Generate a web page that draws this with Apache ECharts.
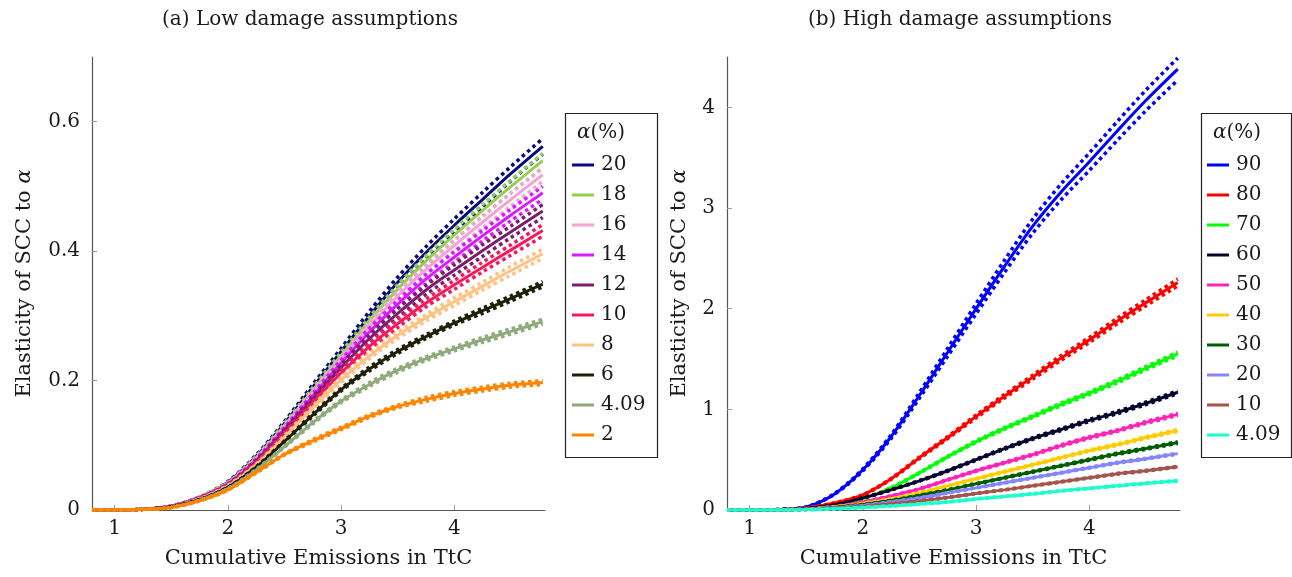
<!DOCTYPE html>
<html>
<head>
<meta charset="utf-8">
<script src="https://cdn.jsdelivr.net/npm/echarts@6/dist/echarts.min.js"></script>
<style>
html,body{margin:0;padding:0;background:#fff;}
#chart{width:1292px;height:577px;}
</style>
</head>
<body>
<div id="chart"></div>
<script>
// Shared x grid (Cumulative Emissions in TtC)
const xs = [0.8, 1.0, 1.25, 1.5, 1.75, 2.0, 2.25, 2.5, 2.75, 3.0, 3.25, 3.5, 3.75, 4.0, 4.25, 4.5, 4.78];

// ---------- (a) Low damage assumptions ----------
const lowNames = ['20', '18', '16', '14', '12', '10', '8', '6', '4.09', '2'];
const lowColors = ['#0a0a80', '#92d050', '#f5a3d6', '#d91aff', '#7a1f6e', '#f5195c', '#ffc285', '#20200a', '#8fab7d', '#ff8400'];

const low20    = [0,0,0.001,0.006,0.02,0.043,0.083,0.134,0.19,0.245,0.30,0.352,0.398,0.44,0.48,0.52,0.562];
const low20Hi  = [0,0,0.001,0.006,0.02,0.044,0.085,0.137,0.194,0.25,0.307,0.36,0.407,0.45,0.491,0.531,0.574];
const low20Lo  = [0,0,0.001,0.006,0.02,0.042,0.081,0.131,0.186,0.24,0.293,0.344,0.389,0.43,0.469,0.509,0.55];

const low18    = [0,0,0.001,0.006,0.02,0.042,0.081,0.131,0.185,0.239,0.292,0.341,0.385,0.425,0.463,0.5,0.54];
const low18Hi  = [0,0,0.001,0.006,0.02,0.043,0.083,0.134,0.189,0.244,0.298,0.348,0.393,0.434,0.472,0.51,0.551];
const low18Lo  = [0,0,0.001,0.006,0.02,0.041,0.079,0.128,0.181,0.234,0.286,0.334,0.377,0.417,0.454,0.49,0.529];

const low16    = [0,0,0.001,0.006,0.019,0.041,0.079,0.128,0.181,0.233,0.284,0.331,0.372,0.409,0.445,0.48,0.518];
const low16Hi  = [0,0,0.001,0.006,0.019,0.042,0.081,0.131,0.185,0.238,0.29,0.338,0.379,0.417,0.454,0.49,0.528];
const low16Lo  = [0,0,0.001,0.006,0.019,0.04,0.077,0.125,0.177,0.228,0.278,0.324,0.365,0.401,0.436,0.47,0.508];

const low14    = [0,0,0.001,0.006,0.019,0.04,0.077,0.125,0.176,0.227,0.275,0.318,0.357,0.391,0.424,0.456,0.49];
const low14Hi  = [0,0,0.001,0.006,0.019,0.041,0.079,0.128,0.18,0.232,0.281,0.324,0.364,0.399,0.432,0.465,0.5];
const low14Lo  = [0,0,0.001,0.006,0.019,0.039,0.075,0.123,0.172,0.222,0.27,0.312,0.35,0.383,0.416,0.447,0.48];

const low12    = [0,0,0.001,0.005,0.018,0.039,0.075,0.122,0.171,0.22,0.265,0.304,0.34,0.371,0.401,0.43,0.462];
const low12Hi  = [0,0,0.001,0.005,0.018,0.04,0.077,0.125,0.175,0.225,0.271,0.311,0.347,0.379,0.41,0.439,0.472];
const low12Lo  = [0,0,0.001,0.005,0.018,0.038,0.073,0.119,0.167,0.215,0.259,0.297,0.333,0.363,0.392,0.421,0.452];

const low10    = [0,0,0.001,0.005,0.018,0.038,0.073,0.118,0.165,0.212,0.253,0.288,0.32,0.348,0.375,0.402,0.432];
const low10Hi  = [0,0,0.001,0.005,0.018,0.039,0.074,0.12,0.168,0.216,0.258,0.294,0.326,0.355,0.383,0.41,0.441];
const low10Lo  = [0,0,0.001,0.005,0.018,0.037,0.072,0.116,0.162,0.208,0.248,0.282,0.314,0.341,0.368,0.394,0.423];

const low8     = [0,0,0.001,0.005,0.017,0.037,0.07,0.113,0.158,0.201,0.238,0.27,0.297,0.322,0.346,0.37,0.396];
const low8Hi   = [0,0,0.001,0.005,0.017,0.038,0.071,0.115,0.161,0.205,0.242,0.275,0.302,0.328,0.352,0.377,0.403];
const low8Lo   = [0,0,0.001,0.005,0.017,0.036,0.069,0.111,0.155,0.197,0.234,0.265,0.292,0.316,0.34,0.363,0.389];

const low6     = [0,0,0.001,0.005,0.016,0.035,0.066,0.106,0.147,0.186,0.218,0.245,0.268,0.289,0.308,0.327,0.349];
const low6Hi   = [0,0,0.001,0.005,0.016,0.035,0.067,0.107,0.149,0.188,0.221,0.248,0.271,0.292,0.312,0.331,0.353];
const low6Lo   = [0,0,0.001,0.005,0.016,0.035,0.065,0.105,0.145,0.184,0.215,0.242,0.265,0.286,0.304,0.323,0.345];

const low409   = [0,0,0.001,0.004,0.015,0.033,0.062,0.098,0.135,0.168,0.194,0.216,0.234,0.249,0.263,0.276,0.291];
const low409Hi = [0,0,0.001,0.004,0.015,0.033,0.063,0.099,0.137,0.17,0.197,0.219,0.237,0.252,0.267,0.28,0.295];
const low409Lo = [0,0,0.001,0.004,0.015,0.033,0.061,0.097,0.133,0.166,0.191,0.213,0.231,0.246,0.259,0.272,0.287];

const low2     = [0,0,0.001,0.004,0.014,0.031,0.058,0.086,0.107,0.126,0.145,0.16,0.171,0.18,0.187,0.193,0.197];
const low2Hi   = [0,0,0.001,0.004,0.014,0.031,0.059,0.087,0.109,0.128,0.147,0.162,0.174,0.183,0.19,0.196,0.2];
const low2Lo   = [0,0,0.001,0.004,0.014,0.031,0.057,0.085,0.105,0.124,0.143,0.158,0.168,0.177,0.184,0.19,0.194];

const lowMain = [low20, low18, low16, low14, low12, low10, low8, low6, low409, low2];
const lowHi   = [low20Hi, low18Hi, low16Hi, low14Hi, low12Hi, low10Hi, low8Hi, low6Hi, low409Hi, low2Hi];
const lowLo   = [low20Lo, low18Lo, low16Lo, low14Lo, low12Lo, low10Lo, low8Lo, low6Lo, low409Lo, low2Lo];

// ---------- (b) High damage assumptions ----------
const highNames = ['90', '80', '70', '60', '50', '40', '30', '20', '10', '4.09'];
const highColors = ['#0000ff', '#ff0000', '#00ff00', '#05052e', '#ff24b8', '#ffcc00', '#005c00', '#8585ff', '#a3554d', '#1affcc'];

const high90    = [0,0,0.005,0.03,0.16,0.4,0.73,1.14,1.57,2.0,2.42,2.82,3.16,3.46,3.77,4.07,4.38];
const high90Hi  = [0,0,0.005,0.031,0.164,0.41,0.748,1.169,1.609,2.05,2.481,2.891,3.239,3.547,3.864,4.172,4.49];
const high90Lo  = [0,0,0.005,0.029,0.156,0.39,0.712,1.112,1.531,1.95,2.36,2.75,3.081,3.374,3.676,3.968,4.271];

const high80    = [0,0,0.003,0.02,0.07,0.15,0.31,0.52,0.72,0.93,1.13,1.32,1.51,1.69,1.88,2.06,2.26];
const high80Hi  = [0,0,0.003,0.02,0.071,0.152,0.315,0.528,0.731,0.944,1.147,1.34,1.533,1.715,1.908,2.091,2.294];
const high80Lo  = [0,0,0.003,0.02,0.069,0.148,0.305,0.512,0.709,0.916,1.113,1.3,1.487,1.665,1.852,2.029,2.226];

const high70    = [0,0,0.002,0.012,0.045,0.11,0.22,0.37,0.53,0.68,0.81,0.93,1.05,1.16,1.28,1.41,1.55];
const high70Hi  = [0,0,0.002,0.012,0.046,0.111,0.223,0.374,0.536,0.688,0.82,0.941,1.063,1.174,1.295,1.427,1.569];
const high70Lo  = [0,0,0.002,0.012,0.044,0.109,0.217,0.366,0.524,0.672,0.8,0.919,1.037,1.146,1.265,1.393,1.531];

const high60    = [0,0,0.003,0.015,0.05,0.12,0.2,0.29,0.39,0.5,0.61,0.71,0.8,0.89,0.97,1.06,1.17];
const high60Hi  = [0,0,0.003,0.015,0.051,0.121,0.202,0.293,0.395,0.506,0.617,0.719,0.81,0.901,0.982,1.073,1.184];
const high60Lo  = [0,0,0.003,0.015,0.049,0.119,0.198,0.287,0.385,0.494,0.603,0.701,0.79,0.879,0.958,1.047,1.156];

const high50    = [0,0,0.002,0.01,0.035,0.08,0.14,0.21,0.3,0.39,0.47,0.55,0.64,0.72,0.79,0.87,0.95];
const high50Hi  = [0,0,0.002,0.01,0.035,0.081,0.142,0.213,0.304,0.395,0.476,0.557,0.648,0.729,0.799,0.88,0.961];
const high50Lo  = [0,0,0.002,0.01,0.035,0.079,0.138,0.207,0.296,0.385,0.464,0.543,0.632,0.711,0.781,0.86,0.939];

const high40    = [0,0,0.002,0.008,0.03,0.065,0.11,0.17,0.24,0.31,0.38,0.45,0.52,0.59,0.65,0.72,0.79];
const high40Hi  = [0,0,0.002,0.008,0.03,0.066,0.111,0.172,0.243,0.314,0.385,0.455,0.526,0.597,0.658,0.729,0.799];
const high40Lo  = [0,0,0.002,0.008,0.03,0.064,0.109,0.168,0.237,0.306,0.375,0.445,0.514,0.583,0.642,0.711,0.781];

const high30    = [0,0,0.002,0.007,0.025,0.055,0.095,0.145,0.2,0.26,0.32,0.38,0.44,0.5,0.56,0.61,0.67];
const high30Hi  = [0,0,0.002,0.007,0.025,0.056,0.096,0.147,0.202,0.263,0.324,0.385,0.445,0.506,0.567,0.617,0.678];
const high30Lo  = [0,0,0.002,0.007,0.025,0.054,0.094,0.143,0.198,0.257,0.316,0.375,0.435,0.494,0.553,0.603,0.662];

const high20    = [0,0,0.001,0.006,0.02,0.045,0.08,0.12,0.17,0.22,0.27,0.32,0.37,0.42,0.47,0.51,0.56];
const high20Hi  = [0,0,0.001,0.006,0.02,0.045,0.081,0.121,0.172,0.222,0.273,0.323,0.374,0.424,0.475,0.515,0.566];
const high20Lo  = [0,0,0.001,0.006,0.02,0.045,0.079,0.119,0.168,0.218,0.267,0.317,0.366,0.416,0.465,0.505,0.554];

const high10    = [0,0,0.001,0.005,0.015,0.035,0.06,0.09,0.125,0.165,0.2,0.24,0.28,0.32,0.36,0.39,0.43];
const high10Hi  = [0,0,0.001,0.005,0.015,0.035,0.061,0.091,0.126,0.167,0.202,0.242,0.283,0.323,0.364,0.394,0.434];
const high10Lo  = [0,0,0.001,0.005,0.015,0.035,0.059,0.089,0.124,0.163,0.198,0.238,0.277,0.317,0.356,0.386,0.426];

const high409   = [0,0,0.001,0.004,0.012,0.025,0.04,0.06,0.08,0.11,0.135,0.16,0.19,0.215,0.24,0.265,0.29];
const high409Hi = [0,0,0.001,0.004,0.012,0.025,0.04,0.061,0.081,0.111,0.136,0.162,0.192,0.217,0.242,0.268,0.293];
const high409Lo = [0,0,0.001,0.004,0.012,0.025,0.04,0.059,0.079,0.109,0.134,0.158,0.188,0.213,0.238,0.262,0.287];

const highMain = [high90, high80, high70, high60, high50, high40, high30, high20, high10, high409];
const highHi   = [high90Hi, high80Hi, high70Hi, high60Hi, high50Hi, high40Hi, high30Hi, high20Hi, high10Hi, high409Hi];
const highLo   = [high90Lo, high80Lo, high70Lo, high60Lo, high50Lo, high40Lo, high30Lo, high20Lo, high10Lo, high409Lo];

// Tick labels
const xTicks = [1, 2, 3, 4];
const lowYTicks = [0, 0.2, 0.4, 0.6];
const highYTicks = [0, 1, 2, 3, 4];

const titles = ['(a) Low damage assumptions', '(b) High damage assumptions'];
const xName = 'Cumulative Emissions in TtC';
const yName = 'Elasticity of SCC to {i|α}';

// ---------- build ----------
const FONT = 'DejaVu Serif';
const TXT = '#1a1a1a';

function pairs(vals) { return xs.map((x, i) => [x, vals[i]]); }

const series = [];
function addGroup(prefix, names, colors, mains, his, los, idx) {
  names.forEach((n, k) => {
    series.push({
      name: prefix + n, type: 'line', xAxisIndex: idx, yAxisIndex: idx,
      data: pairs(mains[k]), smooth: 0.3,
      symbol: 'none', showSymbol: false, silent: true,
      lineStyle: { color: colors[k], width: 3 }, itemStyle: { color: colors[k] },
      z: 2
    });
    [his[k], los[k]].forEach((b, j) => {
      series.push({
        name: prefix + n + (j ? '_lo' : '_hi'), type: 'line', xAxisIndex: idx, yAxisIndex: idx,
        data: pairs(b), smooth: 0.3,
        symbol: 'none', showSymbol: false, silent: true,
        lineStyle: { color: colors[k], width: 3.5, type: [3.5, 3.5], cap: 'butt' },
        itemStyle: { color: colors[k] },
        z: 2
      });
    });
  });
}
addGroup('L', lowNames, lowColors, lowMain, lowHi, lowLo, 0);
addGroup('H', highNames, highColors, highMain, highHi, highLo, 1);

function xAxisCfg(idx) {
  return {
    type: 'value', gridIndex: idx, min: 0.8, max: 4.8,
    name: xName, nameLocation: 'middle', nameGap: 38,
    nameTextStyle: { fontFamily: FONT, fontSize: 21, color: TXT },
    axisLine: { show: true, onZero: false, lineStyle: { color: '#555', width: 1.2 } },
    axisTick: { show: true, inside: true, length: 5, customValues: xTicks, lineStyle: { color: '#999' } },
    axisLabel: { customValues: xTicks, fontFamily: FONT, fontSize: 20, color: TXT, margin: 9 },
    splitLine: { show: false }
  };
}
function yAxisCfg(idx, max, ticks, gap, dec) {
  return {
    type: 'value', gridIndex: idx, min: 0, max: max,
    name: yName, nameLocation: 'middle', nameGap: gap, nameRotate: 90,
    nameTextStyle: { fontFamily: FONT, fontSize: 21, color: TXT, rich: { i: { fontFamily: FONT, fontSize: 21, fontStyle: 'italic', color: TXT } } },
    axisLine: { show: true, onZero: false, lineStyle: { color: '#555', width: 1.2 } },
    axisTick: { show: true, inside: true, length: 5, customValues: ticks, lineStyle: { color: '#999' } },
    axisLabel: { customValues: ticks, fontFamily: FONT, fontSize: 20, color: TXT, margin: 12,
      formatter: v => (v === 0 ? '0' : v.toFixed(dec)) },
    splitLine: { show: false }
  };
}

function legendCfg(prefix, names, left) {
  return {
    orient: 'vertical', left: left, top: 154,
    data: names.map(n => prefix + n),
    icon: 'rect', itemWidth: 22, itemHeight: 3, itemGap: 8,
    selectedMode: false, z: 10,
    formatter: name => name.slice(1),
    textStyle: { fontFamily: FONT, fontSize: 20, lineHeight: 22, color: TXT, padding: [0, 0, 0, 2] },
    padding: 0
  };
}

function legendBox(x, w) {
  return [
    { type: 'rect', left: x, top: 111, shape: { width: w, height: 344 },
      style: { fill: 'none', stroke: '#222', lineWidth: 1.2 }, z: 1 },
    { type: 'text', left: x + 14, top: 123,
      style: { text: '{i|α}(%)', fontFamily: FONT, fontSize: 20, fill: TXT,
        rich: { i: { fontFamily: FONT, fontSize: 20, fontStyle: 'italic', fill: TXT } } }, z: 6 }
  ];
}

const option = {
  backgroundColor: '#fff',
  animation: false,
  title: [
    { text: titles[0], left: 305, top: 5, textAlign: 'center', textStyle: { fontFamily: FONT, fontSize: 20, fontWeight: 'normal', color: TXT } },
    { text: titles[1], left: 955, top: 5, textAlign: 'center', textStyle: { fontFamily: FONT, fontSize: 20, fontWeight: 'normal', color: TXT } }
  ],
  grid: [
    { left: 92, right: 1292 - 545, top: 57, bottom: 577 - 510 },
    { left: 727, right: 1292 - 1180, top: 57, bottom: 577 - 510 }
  ],
  xAxis: [xAxisCfg(0), xAxisCfg(1)],
  yAxis: [yAxisCfg(0, 0.7, lowYTicks, 57, 1), yAxisCfg(1, 4.5, highYTicks, 37, 0)],
  legend: [legendCfg('L', lowNames, 572), legendCfg('H', highNames, 1207)],
  graphic: [].concat(legendBox(563, 92), legendBox(1199, 90)),
  series: series
};

const chart = echarts.init(document.getElementById('chart'), null, { renderer: 'canvas' });
chart.setOption(option);
</script>
</body>
</html>
